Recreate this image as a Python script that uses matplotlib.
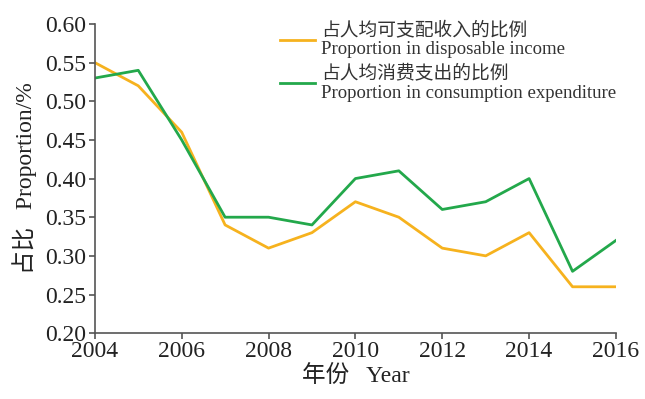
import numpy as np
import matplotlib
matplotlib.use("Agg")
import matplotlib.pyplot as plt

plt.rcParams['font.family'] = ['Liberation Serif', 'Noto Sans CJK SC']

years = [2004, 2005, 2006, 2007, 2008, 2009, 2010, 2011, 2012, 2013, 2014, 2015, 2016]
income = [0.55, 0.52, 0.46, 0.34, 0.31, 0.33, 0.37, 0.35, 0.31, 0.30, 0.33, 0.26, 0.26]
consumption = [0.53, 0.54, 0.45, 0.35, 0.35, 0.34, 0.40, 0.41, 0.36, 0.37, 0.40, 0.28, 0.32]

label_income = '占人均可支配收入的比例\nProportion in disposable income'
label_cons = '占人均消费支出的比例\nProportion in consumption expenditure'

fig = plt.figure(figsize=(6.45, 3.99), dpi=100)
ax = fig.add_axes([0.147, 0.165, 0.808, 0.775])

ax.plot(years, income, color='#F6B21E', lw=2.0, label=label_income)
ax.plot(years, consumption, color='#23A84B', lw=2.0, label=label_cons)

ax.set_xlim(2004, 2016)
ax.set_ylim(0.20, 0.60)
ax.set_xticks(np.arange(2004, 2017, 2))
ax.set_yticks(np.arange(0.20, 0.601, 0.05))
ax.yaxis.set_major_formatter(plt.FormatStrFormatter('%.2f'))

for s in ['top', 'right']:
    ax.spines[s].set_visible(False)
for s in ['left', 'bottom']:
    ax.spines[s].set_color('#555555')
    ax.spines[s].set_linewidth(1.2)
ax.tick_params(direction='out', length=4, width=1.2, color='#555555',
               labelsize=17, labelcolor='#222222', pad=2)

ax.set_xlabel('年份   Year', fontsize=17, color='#222222', labelpad=2)
ax.set_ylabel('占比   Proportion/%', fontsize=17, color='#222222', labelpad=6)

leg = ax.legend(loc='upper left', bbox_to_anchor=(0.355, 1.01), frameon=False,
                fontsize=13.5, handlelength=1.9, handletextpad=0.3,
                labelspacing=0.3, borderaxespad=0, borderpad=0)
for t in leg.get_texts():
    t.set_color('#333333')

fig.savefig('out.png', dpi=100)
